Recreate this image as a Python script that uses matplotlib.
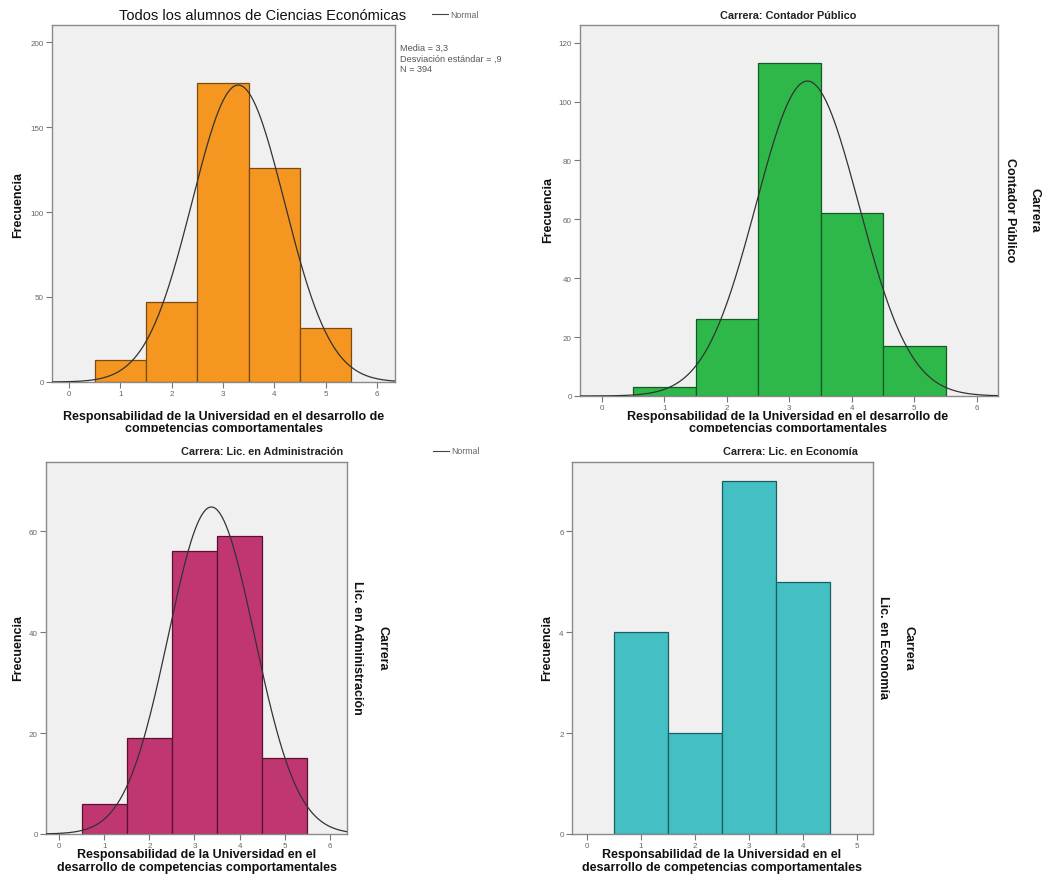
import numpy as np
import matplotlib
matplotlib.use("Agg")
import matplotlib.pyplot as plt
from matplotlib.transforms import Bbox

plt.rcParams['font.family'] = ['Liberation Sans', 'DejaVu Sans']

# ---- data ----
categories = [1, 2, 3, 4, 5]
counts_todos = [13, 47, 176, 126, 32]
counts_contador = [3, 26, 113, 62, 17]
counts_admin = [6, 19, 56, 59, 15]
categories_econ = [1, 2, 3, 4]
counts_econ = [4, 2, 7, 5]

title_todos = "Todos los alumnos de Ciencias Económicas"
title_contador = "Carrera: Contador Público"
title_admin = "Carrera: Lic. en Administración"
title_econ = "Carrera: Lic. en Economía"
stats_text = "Media = 3,3\nDesviación estándar = ,9\nN = 394"
xlabel_top = "Responsabilidad de la Universidad en el desarrollo de\ncompetencias comportamentales"
xlabel_bottom = "Responsabilidad de la Universidad en el\ndesarrollo de competencias comportamentales"

W, H = 1046, 879
fig = plt.figure(figsize=(W / 100, H / 100), dpi=100)


def ax_at(x0, y0, x1, y1):
    return fig.add_axes([x0 / W, 1 - y1 / H, (x1 - x0) / W, (y1 - y0) / H])


def ftext(x, y, s, **kw):
    return fig.text(x / W, 1 - y / H, s, **kw)


def style(ax, xlim, ylim, yticks, xticks):
    ax.set_facecolor('#f0f0f0')
    ax.set_xlim(*xlim)
    ax.set_ylim(*ylim)
    ax.set_yticks(yticks)
    ax.set_xticks(xticks)
    ax.tick_params(direction='out', length=4, width=0.8, colors='#777777',
                   labelsize=5.8, labelcolor='#666666', pad=2)
    for sp in ax.spines.values():
        sp.set_color('#8a8a8a')
        sp.set_linewidth(1.0)


def hist(ax, cats, counts, color, edge, normal=True):
    ax.bar(cats, counts, width=1.0, color=color, edgecolor=edge, linewidth=0.9, zorder=2)
    if normal:
        vals = np.repeat(cats, counts)
        m, s, n = vals.mean(), vals.std(ddof=1), len(vals)
        xs = np.linspace(*ax.get_xlim(), 300)
        ys = n / (s * np.sqrt(2 * np.pi)) * np.exp(-0.5 * ((xs - m) / s) ** 2)
        ax.plot(xs, ys, color='#333333', linewidth=0.9, zorder=3)


bold_lab = dict(fontsize=9, fontweight='bold', color='#111111')
title_kw = dict(fontsize=7.8, fontweight='bold', ha='center', va='center', color='#222222')
top_clip = Bbox([[0, H - 433], [W, H]])

# Panel 1
ax1 = ax_at(52, 26, 395, 383)
style(ax1, (-0.33, 6.35), (0, 210), [0, 50, 100, 150, 200], range(0, 7))
hist(ax1, categories, counts_todos, '#f4961f', '#7a4a12')
ftext(263, 16, title_todos, fontsize=10.5, ha='center', va='center', color='#111111')
ftext(400, 59, stats_text, fontsize=6.6, ha='left', va='center', color='#555555', linespacing=1.25)
ftext(18, 205, 'Frecuencia', rotation=90, ha='center', va='center', **bold_lab)
t = ftext(224, 411, xlabel_top, ha='center', va='top', linespacing=1.05, **bold_lab)
t.set_clip_box(top_clip)
t.set_clip_on(True)

# legend Normal (top)
fig.add_artist(plt.Line2D([432 / W, 448 / W], [1 - 15 / H, 1 - 15 / H], color='#444444', linewidth=0.8))
ftext(450, 15, 'Normal', fontsize=6.3, ha='left', va='center', color='#666666')

# Panel 2
ax2 = ax_at(580, 26, 998, 397)
style(ax2, (-0.35, 6.34), (0, 126), [0, 20, 40, 60, 80, 100, 120], range(0, 7))
hist(ax2, categories, counts_contador, '#2eb84a', '#145a22')
ftext(788, 16, title_contador, **title_kw)
ftext(548, 210, 'Frecuencia', rotation=90, ha='center', va='center', **bold_lab)
ftext(1010, 210, 'Contador Público', rotation=270, ha='center', va='center', **bold_lab)
ftext(1034, 210, 'Carrera', rotation=270, ha='center', va='center', **bold_lab)
t = ftext(788, 411, xlabel_top, ha='center', va='top', linespacing=1.05, **bold_lab)
t.set_clip_box(top_clip)
t.set_clip_on(True)

# Panel 3
ax3 = ax_at(46, 463, 347, 835)
style(ax3, (-0.29, 6.38), (0, 73.7), [0, 20, 40, 60], range(0, 7))
hist(ax3, categories, counts_admin, '#c03670', '#5a1030')
ftext(262, 452, title_admin, **title_kw)
ftext(18, 648, 'Frecuencia', rotation=90, ha='center', va='center', **bold_lab)
ftext(357, 648, 'Lic. en Administración', rotation=270, ha='center', va='center', **bold_lab)
ftext(382, 648, 'Carrera', rotation=270, ha='center', va='center', **bold_lab)
ftext(197, 849, xlabel_bottom, ha='center', va='top', linespacing=1.15, **bold_lab)
fig.add_artist(plt.Line2D([433 / W, 449 / W], [1 - 452 / H, 1 - 452 / H], color='#444444', linewidth=0.8))
ftext(451, 452, 'Normal', fontsize=6.3, ha='left', va='center', color='#666666')

# Panel 4
ax4 = ax_at(572, 463, 873, 835)
style(ax4, (-0.28, 5.3), (0, 7.37), [0, 2, 4, 6], range(0, 6))
hist(ax4, categories_econ, counts_econ, '#44c0c4', '#1a5e60', normal=False)
ftext(790, 452, title_econ, **title_kw)
ftext(547, 648, 'Frecuencia', rotation=90, ha='center', va='center', **bold_lab)
ftext(883, 648, 'Lic. en Economía', rotation=270, ha='center', va='center', **bold_lab)
ftext(908, 648, 'Carrera', rotation=270, ha='center', va='center', **bold_lab)
ftext(722, 849, xlabel_bottom, ha='center', va='top', linespacing=1.15, **bold_lab)

fig.savefig('out.png', dpi=100, facecolor='white')
